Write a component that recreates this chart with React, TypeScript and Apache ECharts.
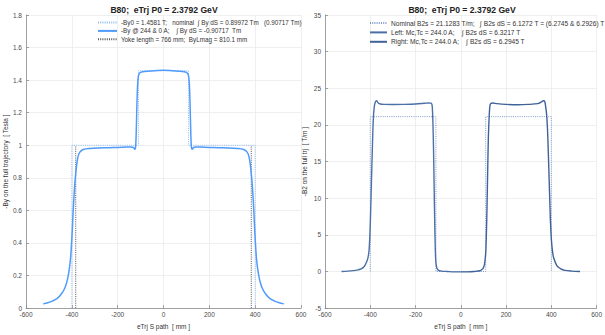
import React, { useEffect, useRef } from "react";
import * as echarts from "echarts";

const FONT = "'Liberation Sans', Arial, sans-serif";
const TITLE = "B80;  eTrj P0 = 2.3792 GeV";

// ---------- left panel: -By along the trajectory ----------
const sBy = [
  -525, -505, -485, -465, -445, -430, -420, -412, -406, -402, -398, -394, -390, -386, -382, -377, -372, -365, -350,
  -320, -280, -240, -200, -160, -140, -130, -126, -122, -119, -116, -113, -110, -106, -100, -90, -70, -40, 0,
  40, 70, 90, 100, 106, 110, 113, 116, 119, 122, 126, 130, 140, 160, 200, 240, 280, 320,
  350, 365, 372, 377, 382, 386, 390, 394, 398, 402, 406, 412, 420, 430, 445, 465, 485, 505, 525,
];
const byVals = [
  0.026, 0.033, 0.043, 0.058, 0.088, 0.125, 0.17, 0.23, 0.3, 0.38, 0.48, 0.6, 0.7, 0.78, 0.84, 0.9, 0.935, 0.958, 0.974,
  0.98, 0.983, 0.985, 0.987, 0.989, 0.99, 0.985, 0.975, 0.985, 1.08, 1.25, 1.37, 1.42, 1.44, 1.448, 1.452, 1.455, 1.458, 1.46,
  1.458, 1.455, 1.452, 1.448, 1.44, 1.42, 1.37, 1.25, 1.08, 0.985, 0.975, 0.985, 0.99, 0.989, 0.987, 0.985, 0.983, 0.98,
  0.974, 0.958, 0.935, 0.9, 0.84, 0.78, 0.7, 0.6, 0.48, 0.38, 0.3, 0.23, 0.17, 0.125, 0.088, 0.058, 0.043, 0.033, 0.026,
];
const sByNom = [-400, -400, -109, -109, 109, 109, 400, 400];
const byNom = [0, 1, 1, 1.4581, 1.4581, 1, 1, 0];
const sYokeL = [-383, -383];
const sYokeR = [383, 383];
const yokeVals = [0, 1];

// ---------- right panel: -B2 along the trajectory ----------
const sB2Left = [
  -527, -500, -475, -455, -440, -425, -415, -410, -405, -401, -398, -395, -391, -387, -383, -378, -372, -365, -355,
  -340, -300, -250, -200, -160, -140, -130, -126, -122, -119, -116, -113, -110, -105, -98, -85, -60, -30, 0,
];
const b2Left = [
  0.0, 0.05, 0.12, 0.22, 0.35, 0.75, 1.4, 1.9, 3.0, 5.5, 8.5, 12, 16.5, 20.5, 22.3, 23.1, 23.3, 23.0, 22.85,
  22.8, 22.78, 22.8, 22.85, 22.95, 23.0, 22.95, 22.5, 19, 14, 8, 3.5, 1.2, 0.4, 0.15, 0.05, 0.0, -0.05, -0.05,
];
const sB2Right = [
  0, 30, 60, 85, 95, 100, 105, 110, 113, 116, 119, 122, 126, 130, 140, 160, 200, 250, 300, 340,
  355, 365, 371, 375, 379, 383, 387, 391, 396, 400, 405, 410, 425, 440, 460, 490, 527,
];
const b2Right = [
  -0.05, -0.05, 0.0, 0.1, 0.3, 0.5, 1.0, 2.5, 5, 9, 14, 18.5, 21.5, 22.8, 23.0, 22.9, 22.8, 22.75, 22.8, 22.9,
  23.1, 23.3, 23.2, 22.5, 21.5, 19.5, 16, 12, 7, 4.5, 2.8, 1.9, 0.75, 0.4, 0.15, 0.05, 0.0,
];
const sB2Nom = [-400, -400, -110, -110, 110, 110, 400, 400];
const b2Nom = [0, 21.1283, 21.1283, 0, 0, 21.1283, 21.1283, 0];

// ---------- labels ----------
const legendLeft = [
  "-By0 = 1.4581 T;   nominal  ∫ By dS = 0.89972 Tm   (0.90717 Tm)",
  "-By @ 244 & 0 A;    ∫ By dS = -0.90717  Tm",
  "Yoke length = 766 mm;  ByLmag = 810.1 mm",
];
const legendRight = [
  "Nominal B2s = 21.1283 T/m;   ∫ B2s dS = 6.1272 T = (6.2745 & 6.2926) T",
  "Left: Mc,Tc = 244.0 A;    ∫ B2s dS = 6.3217 T",
  "Right: Mc,Tc = 244.0 A;    ∫ B2s dS = 6.2945 T",
];
const xName = "eTrj S path  [ mm ]";
const yNameLeft = "-By on the full trajectory  [ Tesla ]";
const yNameRight = "-B2 on the full trj  [ T/m ]";

const zip = (a: number[], b: number[]) => a.map((v, i) => [v, b[i]]);

const AXIS_COLOR = "#8c8c8c";
const LABEL_COLOR = "#4a4a4a";

function xAxis(gridIndex: number) {
  return {
    type: "value",
    gridIndex,
    min: -600,
    max: 600,
    interval: 200,
    name: xName,
    nameLocation: "middle",
    nameGap: 12,
    nameTextStyle: { fontSize: 6.5, color: "#333", fontFamily: FONT },
    axisLine: { show: true, onZero: false, lineStyle: { color: AXIS_COLOR, width: 0.8 } },
    axisTick: { show: true, inside: true, length: 3, lineStyle: { color: AXIS_COLOR, width: 0.8 } },
    axisLabel: { fontSize: 6.5, color: LABEL_COLOR, margin: 3, fontFamily: FONT },
    splitLine: { show: true, lineStyle: { color: "#ebebeb", width: 0.8 } },
  };
}

function yAxis(gridIndex: number, min: number, max: number, interval: number, name: string, nameGap: number) {
  return {
    type: "value",
    gridIndex,
    min,
    max,
    interval,
    name,
    nameLocation: "middle",
    nameGap,
    nameTextStyle: { fontSize: 6.5, color: "#333", fontFamily: FONT },
    axisLine: { show: true, onZero: false, lineStyle: { color: AXIS_COLOR, width: 0.8 } },
    axisTick: { show: true, inside: true, length: 3, lineStyle: { color: AXIS_COLOR, width: 0.8 } },
    axisLabel: { fontSize: 6.5, color: LABEL_COLOR, margin: 4, fontFamily: FONT },
    splitLine: { show: true, lineStyle: { color: "#ebebeb", width: 0.8 } },
  };
}

function legend(names: string[], left: number, itemWidth: number, fontSize: number) {
  return {
    data: names,
    orient: "vertical",
    left,
    top: 19.5,
    itemWidth,
    itemHeight: 6,
    itemGap: 2.4,
    padding: 0,
    itemStyle: { opacity: 0 },
    textStyle: { fontSize, color: "#333", fontFamily: FONT, padding: [0, 0, 0, -1] },
  };
}

const titleStyle = {
  text: TITLE,
  fontSize: 8.6,
  fontWeight: "bold",
  fill: "#222",
  fontFamily: FONT,
  textAlign: "center",
  textVerticalAlign: "middle",
};

const option = {
  animation: false,
  backgroundColor: "#ffffff",
  grid: [
    { left: 26, right: 304, top: 15, bottom: 20 },
    { left: 325, right: 7, top: 15, bottom: 20 },
  ],
  xAxis: [xAxis(0), xAxis(1)],
  yAxis: [
    yAxis(0, 0, 1.8, 0.2, yNameLeft, 14),
    yAxis(1, -5, 35, 5, yNameRight, 17),
  ],
  legend: [legend(legendLeft, 97, 19, 6.3), legend(legendRight, 369, 17, 6.6)],
  graphic: [
    { type: "text", x: 164, y: 10, style: titleStyle },
    { type: "text", x: 462, y: 10, style: titleStyle },
  ],
  series: [
    {
      name: legendLeft[0],
      type: "line",
      xAxisIndex: 0,
      yAxisIndex: 0,
      data: zip(sByNom, byNom),
      symbol: "none",
      lineStyle: { color: "#8fbcec", width: 1, type: [1, 1.2] },
      itemStyle: { color: "#8fbcec" },
      z: 3,
    },
    {
      name: legendLeft[1],
      type: "line",
      xAxisIndex: 0,
      yAxisIndex: 0,
      data: zip(sBy, byVals),
      symbol: "none",
      smooth: 0.3,
      lineStyle: { color: "#4f9bfb", width: 1.5 },
      itemStyle: { color: "#4f9bfb" },
      z: 4,
    },
    {
      name: legendLeft[2],
      type: "line",
      xAxisIndex: 0,
      yAxisIndex: 0,
      data: zip(sYokeL, yokeVals),
      symbol: "none",
      lineStyle: { color: "#555555", width: 1, type: [1, 1.2] },
      itemStyle: { color: "#555555" },
      z: 2,
    },
    {
      name: legendLeft[2],
      type: "line",
      xAxisIndex: 0,
      yAxisIndex: 0,
      data: zip(sYokeR, yokeVals),
      symbol: "none",
      lineStyle: { color: "#555555", width: 1, type: [1, 1.2] },
      itemStyle: { color: "#555555" },
      z: 2,
    },
    {
      name: legendRight[0],
      type: "line",
      xAxisIndex: 1,
      yAxisIndex: 1,
      data: zip(sB2Nom, b2Nom),
      symbol: "none",
      lineStyle: { color: "#7d9cc8", width: 1, type: [1, 1.2] },
      itemStyle: { color: "#7d9cc8" },
      z: 3,
    },
    {
      name: legendRight[1],
      type: "line",
      xAxisIndex: 1,
      yAxisIndex: 1,
      data: zip(sB2Left, b2Left),
      symbol: "none",
      smooth: 0.3,
      lineStyle: { color: "#4b70a8", width: 1.4 },
      itemStyle: { color: "#4b70a8" },
      z: 4,
    },
    {
      name: legendRight[2],
      type: "line",
      xAxisIndex: 1,
      yAxisIndex: 1,
      data: zip(sB2Right, b2Right),
      symbol: "none",
      smooth: 0.3,
      lineStyle: { color: "#3f6299", width: 1.4 },
      itemStyle: { color: "#3f6299" },
      z: 4,
    },
  ],
};

export default function App() {
  const ref = useRef<HTMLDivElement>(null);
  useEffect(() => {
    const chart = echarts.init(ref.current!, null, { renderer: "svg" });
    chart.setOption(option as any);
    return () => chart.dispose();
  }, []);
  return (
    <div
      ref={ref}
      style={{ width: 605, height: 335, position: "absolute", left: 0, top: 0, background: "#fff" }}
    />
  );
}
